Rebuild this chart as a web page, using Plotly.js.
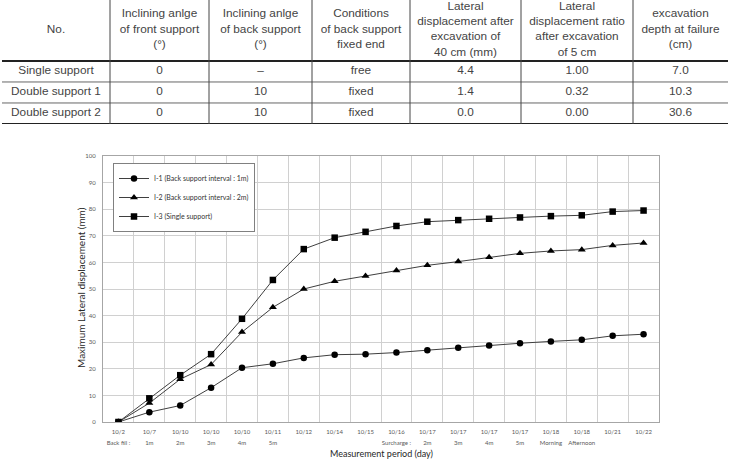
<!DOCTYPE html>
<html>
<head>
<meta charset="utf-8">
<script src="https://cdn.plot.ly/plotly-3.0.1.min.js"></script>
<style>
html,body{margin:0;padding:0;background:#fff;overflow:hidden;}
#chart{width:730px;height:460px;}
</style>
</head>
<body>
<div id="chart"></div>
<script>
// ---- table data ----
const tableHeaders = [
  "No.",
  "Inclining anlge<br>of front support<br>(°)",
  "Inclining anlge<br>of back support<br>(°)",
  "Conditions<br>of back support<br>fixed end",
  "Lateral<br>displacement after<br>excavation of<br>40 cm (mm)",
  "Lateral<br>displacement ratio<br>after excavation<br>of 5 cm",
  "excavation<br>depth at failure<br>(cm)"
];
const caseNames = ["Single support", "Double support 1", "Double support 2"];
const frontAngle = ["0", "0", "0"];
const backAngle = ["–", "10", "10"];
const fixedEnd = ["free", "fixed", "fixed"];
const lateral40cm = ["4.4", "1.4", "0.0"];
const lateralRatio5cm = ["1.00", "0.32", "0.00"];
const failureDepth = ["7.0", "10.3", "30.6"];

// ---- chart data ----
const dateLabels = ["10/2","10/7","10/10","10/10","10/10","10/11","10/12","10/14","10/15","10/16","10/17","10/17","10/17","10/17","10/18","10/18","10/21","10/22"];
const stageLabels = ["Back fill :","1m","2m","3m","4m","5m","","","","Surcharge :","2m","3m","4m","5m","Morning","Afternoon","",""];
const seriesI1 = [0, 3.7, 6.2, 12.9, 20.4, 21.9, 24.1, 25.3, 25.5, 26.1, 27.0, 27.9, 28.8, 29.6, 30.3, 30.9, 32.4, 33.0];
const seriesI2 = [0, 7.1, 16.1, 21.6, 33.8, 43.1, 50.0, 52.9, 54.9, 57.0, 58.9, 60.3, 61.9, 63.4, 64.3, 64.8, 66.4, 67.3];
const seriesI3 = [0, 8.9, 17.6, 25.5, 38.8, 53.4, 65.0, 69.3, 71.5, 73.7, 75.3, 75.9, 76.4, 76.9, 77.4, 77.7, 79.1, 79.5];
const seriesNames = ["I-1 (Back support interval : 1m)", "I-2 (Back support interval : 2m)", "I-3 (Single support)"];

// ---- layout constants ----
const W = 730, H = 460;
const px = v => v / W;          // x pixel -> paper
const py = v => 1 - v / H;      // y pixel -> paper

// table geometry (in table-axis units)
const colW = [108, 99, 103, 98, 111, 112, 95];
const tblLeft = 2, tblRight = 728, tblBottom = 124;
const hdr = 2.9;               // header height in row units
const lineStep = 0.73;         // header line spacing in row units
const hdrMid = 1.42;
const nRows = caseNames.length;
const tblSpan = hdr + nRows;

const colEdges = [0];
colW.forEach(w => colEdges.push(colEdges[colEdges.length - 1] + w));
const colMid = colW.map((w, i) => colEdges[i] + w / 2);

const bodyCols = [caseNames, frontAngle, backAngle, fixedEnd, lateral40cm, lateralRatio5cm, failureDepth];

// header text points (one per line)
const hx = [], hy = [], ht = [];
tableHeaders.forEach((h, c) => {
  const lines = h.split("<br>");
  lines.forEach((ln, i) => {
    hx.push(colMid[c]);
    hy.push(hdrMid + (i - (lines.length - 1) / 2) * lineStep);
    ht.push(ln);
  });
});
// body text points
const bx = [], by = [], bt = [];
bodyCols.forEach((col, c) => col.forEach((v, r) => {
  bx.push(colMid[c]);
  by.push(hdr + r + 0.5);
  bt.push(v);
}));

const tableFont = {family: "Liberation Sans", size: 11.8, color: "#444"};
const tickFont = {family: "Lato", size: 6, color: "#595959"};

const idx = dateLabels.map((_, i) => i);
const gridPos = idx.slice(0, -1).map(i => i + 0.5);

const traces = [
  {type: "scatter", mode: "text", x: hx, y: hy, text: ht, xaxis: "x3", yaxis: "y3",
   textposition: "middle center", textfont: tableFont, showlegend: false, hoverinfo: "skip", cliponaxis: false},
  {type: "scatter", mode: "text", x: bx, y: by, text: bt, xaxis: "x3", yaxis: "y3",
   textposition: "middle center", textfont: tableFont, showlegend: false, hoverinfo: "skip", cliponaxis: false}
];

const markerSyms = ["circle", "triangle-up", "square"];
const markerSizes = [6.5, 7, 6.5];
[seriesI1, seriesI2, seriesI3].forEach((ys, k) => {
  traces.push({
    type: "scatter",
    mode: "lines+markers",
    x: idx,
    y: ys,
    name: seriesNames[k],
    xaxis: "x",
    yaxis: "y",
    line: {color: "#3f3f3f", width: 1},
    marker: {symbol: markerSyms[k], size: markerSizes[k], color: "#000"}
  });
});
// invisible trace carrying the second row of x labels
traces.push({
  type: "scatter", mode: "markers", x: idx, y: seriesI1, xaxis: "x2", yaxis: "y",
  marker: {opacity: 0}, showlegend: false, hoverinfo: "skip"
});

// table rules
const shapes = [];
const hRules = [[hdr, 2, "#222"]];
for (let r = 1; r < nRows; r++) hRules.push([hdr + r, 1, "#666"]);
hRules.push([tblSpan, 2, "#222"]);
hRules.forEach(([y, w, c]) => shapes.push({
  type: "line", xref: "x3", yref: "y3",
  x0: colEdges[0], x1: colEdges[colEdges.length - 1], y0: y, y1: y,
  line: {color: c, width: w}
}));
colEdges.slice(1, -1).forEach(e => shapes.push({
  type: "line", xref: "x3", yref: "y3",
  x0: e, x1: e, y0: -0.3, y1: tblSpan,
  line: {color: "#444", width: 1}
}));

const plotL = 103, plotR = 659, plotT = 156, plotB = 422;

const layout = {
  width: W, height: H,
  margin: {l: 0, r: 0, t: 0, b: 0, pad: 0},
  paper_bgcolor: "#fff", plot_bgcolor: "rgba(0,0,0,0)",
  showlegend: true,
  font: {family: "Lato", color: "#404040"},
  xaxis: {
    domain: [px(plotL), px(plotR)],
    anchor: "y",
    range: [-0.5, dateLabels.length - 0.5],
    tickmode: "array", tickvals: idx, ticktext: dateLabels,
    tickfont: tickFont,
    ticks: "", showgrid: false, zeroline: false,
    showline: true, mirror: true, linecolor: "#a6a6a6", linewidth: 1,
    ticklabelstandoff: 4,
    minor: {tickmode: "array", tickvals: gridPos, showgrid: true, gridcolor: "#d0d0d0", gridwidth: 1, ticks: ""},
    fixedrange: true
  },
  xaxis2: {
    overlaying: "x",
    anchor: "free",
    position: py(438),
    range: [-0.5, dateLabels.length - 0.5],
    tickmode: "array", tickvals: idx, ticktext: stageLabels,
    tickfont: tickFont,
    ticks: "", showgrid: false, zeroline: false, showline: false,
    fixedrange: true
  },
  yaxis: {
    domain: [py(plotB), py(plotT)],
    anchor: "x",
    range: [0, 100], dtick: 10, tick0: 0,
    tickfont: tickFont,
    ticks: "", showgrid: true, gridcolor: "#d0d0d0", gridwidth: 1, zeroline: false,
    showline: true, mirror: true, linecolor: "#a6a6a6", linewidth: 1,
    ticklabelstandoff: 5,
    fixedrange: true
  },
  xaxis3: {
    domain: [px(tblLeft), px(tblRight)], anchor: "y3",
    range: [colEdges[0], colEdges[colEdges.length - 1]],
    visible: false, fixedrange: true
  },
  yaxis3: {
    domain: [py(tblBottom), 1], anchor: "x3",
    range: [tblSpan, 0],
    visible: false, fixedrange: true
  },
  legend: {
    x: px(113), y: py(163), xanchor: "left", yanchor: "top",
    bgcolor: "#fff", bordercolor: "#808080", borderwidth: 1,
    font: {family: "Lato", size: 7, color: "#333"},
    tracegroupgap: 0
  },
  annotations: [
    {
      text: "Maximum Lateral displacement (mm)", xref: "paper", yref: "paper",
      x: px(73), y: py(288), textangle: -90, showarrow: false,
      font: {family: "Lato", size: 10, color: "#262626"}
    },
    {
      text: "Measurement period (day)", xref: "paper", yref: "paper",
      x: px(381), y: 0, yanchor: "bottom", showarrow: false, borderpad: 0,
      font: {family: "Lato", size: 9, color: "#262626"}
    }
  ],
  shapes: shapes
};

Plotly.newPlot("chart", traces, layout, {displayModeBar: false, staticPlot: true});
</script>
</body>
</html>
